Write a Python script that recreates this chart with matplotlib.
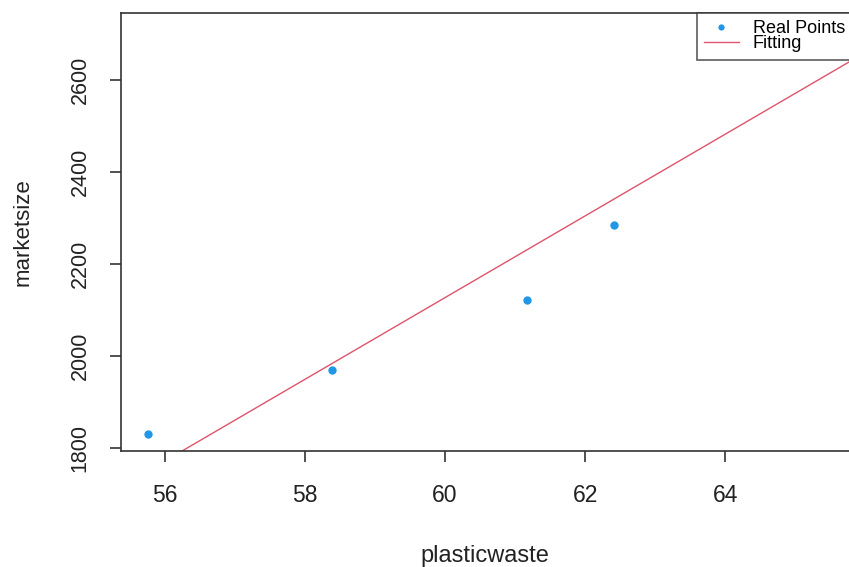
import matplotlib
matplotlib.use("Agg")
import matplotlib.pyplot as plt
from matplotlib.lines import Line2D
import numpy as np

plt.rcParams['font.family'] = ['Liberation Sans', 'DejaVu Sans']

# 数据
plastic_waste = [55.76, 58.39, 61.17, 62.41]
market_size = [1830, 1970, 2122, 2285]
# 拟合直线 y = a + b * x
fit_intercept = -3198.0
fit_slope = 88.75

x_ticks = [56, 58, 60, 62, 64]
y_ticks = [1800, 2000, 2200, 2400, 2600]

blue = '#2297E6'
pink = '#DF536B'
ink = '#222222'

fig = plt.figure(figsize=(8.49, 5.67), dpi=100)
ax = fig.add_axes([121 / 849, 1 - 451 / 567, 1 - 121 / 849, (451 - 13) / 567])

ax.plot(plastic_waste, market_size, 'o', color=blue, markersize=6, markeredgewidth=0)
xlim = (55.37, 65.77)
xs = np.array(xlim)
ax.plot(xs, fit_intercept + fit_slope * xs, color=pink, linewidth=1)

ax.set_xlim(*xlim)
ax.set_ylim(1793.5, 2745.6)
ax.set_xticks(x_ticks)
ax.set_yticks(y_ticks)
ax.set_yticklabels([str(v) for v in y_ticks], rotation=90, va='center')
ax.tick_params(axis='both', length=8, width=1.2, color='#333333', labelcolor=ink)
ax.tick_params(axis='x', labelsize=16.5, pad=16)
ax.tick_params(axis='y', labelsize=15.5, pad=14)
for s in ['left', 'bottom', 'top']:
    ax.spines[s].set_linewidth(1.2)
    ax.spines[s].set_color('#333333')
ax.spines['right'].set_visible(False)

ax.set_xlabel('plasticwaste', fontsize=17, color=ink, labelpad=27)
ax.set_ylabel('marketsize', fontsize=16, color=ink, labelpad=26)

handles = [Line2D([], [], marker='o', linestyle='none', color=blue, markersize=4.5, markeredgewidth=0),
           Line2D([], [], color=pink, linewidth=1)]
leg = fig.legend(handles, ['Real Points', 'Fitting'], loc='upper left',
                 bbox_to_anchor=(697 / 849, 1 - 13 / 567), fontsize=13,
                 frameon=True, fancybox=False, edgecolor='#333333',
                 labelspacing=-0.1, handlelength=1.9, handletextpad=0.8,
                 borderpad=0.4, borderaxespad=0)
leg.get_frame().set_linewidth(1.2)

plt.savefig('out.png', dpi=100)
